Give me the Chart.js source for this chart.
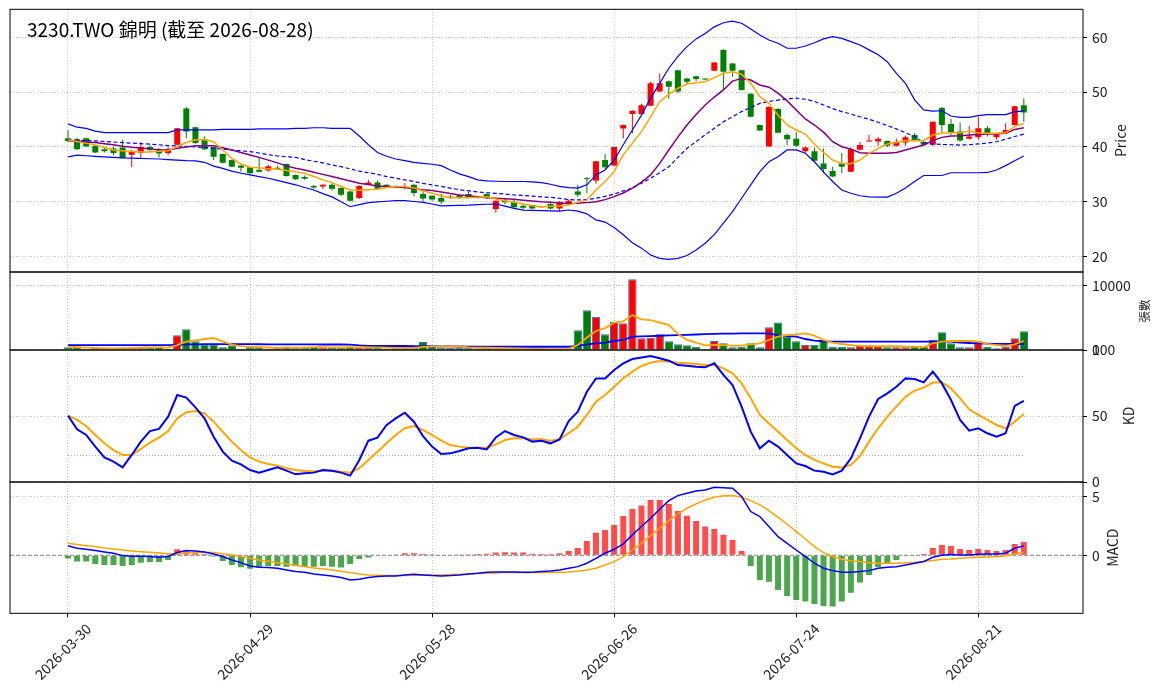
<!DOCTYPE html>
<html>
<head>
<meta charset="utf-8">
<script src="https://cdn.jsdelivr.net/npm/chart.js@4.4.1/dist/chart.umd.min.js"></script>
<style>
  html, body { margin: 0; padding: 0; background: #fff; }
  #wrap { position: relative; width: 1163px; height: 698px; overflow: hidden; }
  #wrap canvas { position: absolute; left: 0; top: 0; }
  #wrap canvas#price { top: -10px; }
</style>
</head>
<body>
<div id="wrap">
  <canvas id="price" width="1163" height="698"></canvas>
  <canvas id="vol" width="1163" height="698"></canvas>
  <canvas id="kd" width="1163" height="698"></canvas>
  <canvas id="macd" width="1163" height="698"></canvas>
</div>
<script>
// trading calendar (weekdays minus TW market holidays)
var holidays = ['2026-04-03', '2026-04-06', '2026-05-01', '2026-06-19'];
function tradingDays(start, end) {
  var out = [];
  var last = new Date(end + 'T00:00:00Z');
  for (var d = new Date(start + 'T00:00:00Z'); d <= last; d.setUTCDate(d.getUTCDate() + 1)) {
    var wd = d.getUTCDay();
    var s = d.toISOString().slice(0, 10);
    if (wd !== 0 && wd !== 6 && holidays.indexOf(s) < 0) out.push(s);
  }
  return out;
}
var dates = tradingDays('2026-03-30', '2026-08-28');
var xTicks = [0, 20, 40, 60, 80, 100];

var open = [41.6,41.4,41.6,40.2,39.6,39.7,39.9,38.6,38.9,40.0, 39.6,38.9,40.4,47.0,43.6,41.4,40.0,38.7,37.6,36.6,
  36.3,35.8,35.7,36.2,36.9,34.9,34.5,32.9,32.8,33.1, 32.5,31.9,30.7,33.1,33.5,33.1,32.9,32.6,33.1,31.4,
  31.1,30.7,30.7,31.2,31.4,30.9,31.4,28.7,30.2,30.0, 29.3,29.4,29.0,29.6,28.8,29.8,31.9,34.3,33.9,37.6,
  36.6,43.35,46.0,46.0,47.5,50.1,52.0,54.0,52.5,52.9, 52.4,53.9,57.7,55.2,54.0,49.7,44.0,40.1,46.9,42.2,
  41.5,39.2,39.2,37.0,35.6,37.0,35.5,39.5,41.0,41.0, 41.1,40.2,40.8,42.2,40.9,40.4,47.1,44.2,42.8,41.5,
  41.75,43.4,41.75,42.5,44.0,47.6];
var high = [43.1,41.7,41.7,40.3,40.0,40.1,41.3,39.5,40.9,40.3, 39.8,40.0,43.5,47.3,43.7,41.9,40.0,38.8,37.7,36.6,
  36.4,38.0,36.8,36.6,37.0,35.0,34.8,33.1,33.2,33.4, 32.6,32.0,33.0,34.0,33.9,33.2,33.0,33.4,33.2,32.0,
  31.2,31.4,31.3,31.3,31.8,31.1,31.5,30.3,30.5,30.4, 29.6,29.5,29.3,29.8,30.1,30.4,33.1,34.5,37.5,38.7,
  40.1,44.1,46.7,47.9,51.9,53.4,52.1,54.1,52.6,53.0, 52.5,55.5,57.8,55.3,54.1,49.8,44.1,47.4,47.1,42.4,
  42.7,40.1,39.9,39.7,36.4,38.9,39.9,40.9,42.2,41.8, 41.2,41.5,42.1,42.5,41.2,44.7,47.3,45.1,44.4,43.8,
  45.4,43.8,42.4,44.3,47.5,48.9];
var low = [41.0,39.5,40.0,38.9,39.0,38.5,37.9,36.3,38.1,39.2, 38.1,38.5,40.3,41.6,40.6,39.5,37.6,37.0,36.3,35.5,
  35.1,35.4,35.5,35.8,34.6,34.0,34.0,32.4,32.3,32.0, 31.0,30.1,30.5,33.0,32.3,32.5,32.6,32.3,31.0,30.0,
  30.2,29.6,30.5,30.5,30.7,30.6,30.5,28.0,29.6,28.9, 28.6,28.7,28.9,28.6,28.2,29.6,30.9,31.6,33.3,36.0,
  36.5,41.6,42.5,45.8,47.4,50.0,48.8,49.8,51.3,52.0, 52.2,53.8,50.4,52.8,50.3,45.4,42.9,40.0,42.5,40.3,
  40.0,39.0,37.3,35.2,34.5,35.2,35.4,39.4,41.0,40.2, 40.0,40.1,40.2,41.0,40.2,40.2,42.5,42.2,41.0,41.4,
  41.3,41.9,41.3,42.4,43.9,44.6];
var close = [41.1,39.6,40.1,39.0,39.2,38.9,38.0,39.1,40.0,39.5, 38.8,39.6,43.4,42.8,40.7,39.6,38.2,37.1,36.4,36.2,
  35.2,35.5,36.5,36.0,34.7,34.1,34.2,32.6,33.1,32.4, 31.3,30.2,32.9,33.5,32.4,32.7,32.7,32.8,31.6,30.6,
  30.4,30.0,30.9,30.7,30.8,30.7,30.7,30.2,29.9,29.0, 28.9,28.8,29.2,28.8,30.0,30.2,31.3,34.1,37.4,36.3,
  40.0,44.0,46.6,47.6,51.6,51.6,51.0,50.1,51.9,52.4, 52.3,55.4,53.7,53.9,50.4,45.5,43.0,47.3,42.6,41.4,
  40.2,39.9,37.5,36.0,34.6,36.4,39.6,40.35,41.1,41.5, 40.2,40.95,41.75,41.2,40.4,44.6,44.0,42.6,41.2,41.9,
  43.4,42.5,42.3,43.1,47.4,46.3];

var ma5 = [41.3,41.0,40.7,40.35,39.9,39.45,39.3,39.15,39.1,39.1, 39.2,39.3,40.05,40.8,41.3,41.35,40.95,39.45,37.9,36.9,
  36.3,36.2,36.0,36.0,35.7,35.5,35.2,34.6,34.0,33.5, 32.8,32.15,32.1,32.2,32.3,32.6,32.8,32.8,32.5,32.0,
  31.55,31.1,30.75,30.75,30.75,30.85,30.9,30.5,30.2,29.9, 29.6,29.3,29.1,29.2,29.25,29.4,29.9,30.35,32.15,33.7,
  35.5,38.55,40.7,42.8,45.5,48.25,49.6,50.7,51.5,51.7, 51.9,52.65,53.45,53.7,53.25,51.6,49.2,47.95,45.8,44.0,
  43.1,42.35,40.5,39.0,37.6,37.0,36.95,37.6,38.85,39.75, 40.55,40.8,41.15,41.2,41.15,42.2,42.5,42.6,42.6,42.9,
  42.55,42.5,42.5,42.6,43.7,44.3];
var ma10 = [41.15,41.05,40.9,40.8,40.6,40.4,40.15,39.95,39.8,39.65, 39.5,39.45,39.75,40.0,40.2,40.2,40.2,39.85,39.45,39.0,
  38.55,38.1,37.6,37.1,36.55,36.1,35.8,35.4,35.0,34.6, 34.2,33.8,33.4,33.15,32.9,32.8,32.7,32.6,32.4,32.2,
  32.05,31.8,31.5,31.25,31.1,30.9,30.75,30.65,30.55,30.45, 30.3,30.15,30.0,29.9,29.8,29.7,29.75,29.85,30.0,30.4,
  30.95,31.6,32.5,33.6,34.9,37.0,39.45,41.8,44.0,45.9, 47.65,49.1,50.4,52.0,52.5,52.2,51.3,50.9,49.8,48.4,
  46.75,45.1,44.0,42.7,40.95,40.05,39.6,38.95,38.85,38.85, 38.85,39.0,39.45,39.9,40.35,41.15,41.75,42.0,42.05,42.2,
  42.25,42.35,42.4,42.5,43.2,43.5];
var bbUpper = [44.2,43.6,43.4,42.9,42.6,42.6,42.6,42.6,42.6,42.6, 42.6,42.6,43.1,43.1,43.1,43.1,43.1,43.2,43.2,43.2,
  43.2,43.3,43.3,43.3,43.3,43.4,43.4,43.5,43.5,43.4, 43.4,43.4,42.0,40.4,39.0,38.3,37.8,37.5,37.2,37.0,
  36.85,36.6,35.8,35.1,34.6,34.0,33.8,33.75,33.7,33.7, 33.7,33.65,33.5,33.2,32.8,32.6,32.5,33.1,34.9,35.8,
  37.6,40.4,43.1,45.8,48.9,51.6,54.35,56.5,58.3,59.7, 60.7,61.9,62.65,62.95,62.55,61.5,60.4,59.5,58.9,58.0,
  58.0,58.4,59.0,59.7,60.1,59.8,59.2,58.6,57.7,56.8, 55.55,53.4,51.6,48.6,46.75,46.55,46.6,45.65,45.4,45.4,
  45.7,45.9,45.9,45.9,46.45,46.55];
var bbMid = [41.3,41.2,41.15,41.1,41.0,40.9,40.8,40.7,40.6,40.5, 40.4,40.25,40.2,40.1,40.0,39.9,39.75,39.6,39.45,39.3,
  39.15,38.9,38.6,38.35,38.2,38.1,37.7,37.4,37.1,36.7, 36.4,36.0,35.6,35.3,35.0,34.6,34.3,34.0,33.7,33.35,
  33.1,32.8,32.5,32.2,32.0,31.8,31.65,31.55,31.4,31.25, 31.15,31.05,30.9,30.8,30.65,30.4,30.35,30.4,30.65,31.0,
  31.4,32.0,32.5,33.4,34.3,35.3,36.4,38.1,39.75,41.0, 42.2,43.4,44.6,45.5,46.45,47.2,47.95,48.3,48.55,48.75,
  48.9,48.7,48.3,47.65,47.0,46.45,46.0,45.5,45.05,44.5, 43.9,43.3,42.6,41.9,40.8,40.55,40.45,40.4,40.35,40.4,
  40.55,40.7,40.95,41.4,41.9,42.35];
var bbLower = [38.2,38.5,38.4,38.3,38.2,38.1,38.0,37.95,37.9,37.85, 37.8,37.7,37.6,37.5,37.45,37.2,36.5,36.1,35.6,35.2,
  34.9,34.6,34.3,33.9,33.5,33.1,32.6,32.15,31.5,30.9, 30.0,29.1,29.5,29.85,30.0,30.1,30.2,30.2,30.05,29.9,
  29.6,29.25,29.3,29.35,29.4,29.5,29.55,29.6,29.2,28.8, 28.5,28.45,28.4,28.35,28.3,28.5,28.3,27.8,26.7,26.3,
  25.3,24.0,22.55,21.55,20.3,19.7,19.5,19.7,20.2,21.2, 22.45,24.0,26.1,28.2,30.65,33.1,35.5,37.3,38.2,39.45,
  39.45,38.85,37.3,35.4,33.7,32.15,31.55,31.1,30.9,30.85, 30.85,31.55,32.5,33.7,34.8,34.8,34.8,35.3,35.3,35.3,
  35.3,35.35,35.8,36.6,37.5,38.35];

var volume = [420,420,150,300,200,200,400,400,400,400, 500,200,2270,3200,1340,830,830,420,720,200,
  420,420,200,400,500,400,400,500,400,400, 400,500,400,400,400,200,300,300,400,1240,
  500,400,300,400,400,250,400,200,200,200, 100,150,150,150,200,200,3040,6130,5150,2420,
  4380,4120,10930,1800,1900,2420,1340,880,720,500, 100,1390,1030,420,500,1030,420,3500,4270,2060,
  1340,770,830,1440,520,520,420,720,720,620, 420,420,420,520,520,1550,2730,1030,420,420,
  1340,520,260,520,1800,2880];
var volMa5 = [450,430,380,340,300,250,300,320,360,400, 420,380,770,1290,1480,1700,1850,1320,830,600,
  520,450,390,330,390,380,380,440,440,420, 420,440,420,420,420,380,340,320,320,490,
  550,550,570,570,400,350,350,310,290,250, 220,170,160,150,150,170,750,1940,2940,3390,
  4220,4440,5400,4730,4630,4250,3900,2470,1550,1130, 710,780,750,690,690,870,1030,1550,2060,2320,
  2420,2580,2220,1550,1130,930,770,640,580,600, 580,580,520,520,460,1030,1290,1390,1390,1390,
  1290,930,770,620,870,1390];
var volMa20 = [760,760,760,760,760,760,760,760,760,750, 750,740,800,860,880,900,900,900,900,900,
  900,890,880,880,870,870,860,860,850,850, 850,820,700,650,620,620,620,620,600,600,
  580,560,550,540,530,520,520,510,500,500, 500,500,500,500,500,500,620,880,1030,1150,
  1390,1550,2060,2100,2160,2200,2270,2300,2350,2400, 2470,2500,2520,2540,2560,2580,2580,2580,2270,2150,
  2060,1700,1440,1350,1290,1290,1290,1290,1290,1290, 1290,1290,1290,1290,1290,1290,1290,1290,1130,1080,
  1030,980,960,950,940,930];

var kLine = [50.3,39.9,35.6,26.8,18.7,15.4,11.1,20.5,30.6,38.6, 40.2,49.5,65.9,63.9,56.6,48.2,34.3,23.0,16.2,13.4,
  9.1,7.1,9.1,11.1,8.6,5.8,6.6,7.1,9.1,8.6, 7.1,4.8,16.7,31.3,33.6,43.2,48.2,52.5,45.7,34.8,
  26.8,21.2,21.7,23.5,25.5,26.0,24.7,33.8,38.6,35.6, 33.8,30.6,31.3,29.3,32.3,46.2,53.3,68.4,78.5,78.5,
  84.8,89.9,93.2,94.4,95.5,93.7,91.9,88.6,88.1,87.4, 86.9,89.9,81.1,73.5,57.1,38.1,25.5,31.3,26.8,20.5,
  14.1,12.1,8.6,7.8,5.8,8.6,17.9,33.1,49.5,62.9, 67.2,72.2,78.5,78.0,75.5,83.6,74.7,62.1,47.0,38.9,
  40.7,36.9,34.3,36.9,57.6,61.4];
var dLine = [50.3,47.0,42.4,35.6,29.3,24.2,20.5,20.5,25.0,29.8, 33.6,38.6,48.2,52.8,53.8,52.0,45.7,38.1,30.6,24.2,
  18.7,15.4,13.6,12.4,10.4,9.1,8.3,8.1,8.6,8.6, 7.8,7.1,10.4,16.7,23.0,29.3,35.6,40.7,42.4,39.4,
  35.6,31.3,28.0,26.8,26.0,26.0,26.0,28.5,31.8,33.1, 33.1,32.3,32.3,31.3,32.3,36.9,41.9,50.8,60.9,65.9,
  72.2,78.5,83.6,87.9,90.4,91.7,91.2,90.4,89.9,89.4, 88.6,88.6,86.1,82.3,74.7,63.4,50.8,44.4,38.1,31.8,
  25.5,20.5,16.7,14.1,11.6,10.9,12.9,19.7,30.6,40.7, 49.5,57.1,64.6,69.2,71.5,75.3,75.5,71.0,63.4,55.1,
  50.8,47.0,43.2,40.7,45.7,51.5];

var dif = [0.82,0.6,0.51,0.4,0.28,0.17,-0.03,-0.09,-0.09,-0.11, -0.17,-0.11,0.23,0.4,0.37,0.28,0.11,-0.11,-0.4,-0.63,
  -0.91,-1.02,-1.05,-1.11,-1.25,-1.39,-1.45,-1.59,-1.68,-1.76, -1.9,-2.1,-2.05,-1.9,-1.82,-1.76,-1.76,-1.68,-1.62,-1.68,
  -1.73,-1.76,-1.73,-1.68,-1.59,-1.54,-1.45,-1.42,-1.42,-1.42, -1.45,-1.45,-1.39,-1.34,-1.25,-1.11,-0.97,-0.68,-0.26,0.17,
  0.51,0.97,1.74,2.45,3.16,3.92,4.66,5.09,5.29,5.49, 5.57,5.8,5.77,5.72,5.01,3.73,3.3,2.45,1.59,1.02,
  0.45,-0.11,-0.68,-1.11,-1.31,-1.45,-1.45,-1.39,-1.31,-1.11, -1.02,-0.97,-0.83,-0.68,-0.54,-0.17,0.0,0.06,0.03,0.03,
  0.09,0.11,0.11,0.17,0.6,0.8];
var signal = [1.02,0.91,0.82,0.74,0.63,0.54,0.45,0.37,0.31,0.26, 0.2,0.14,0.14,0.2,0.26,0.26,0.23,0.14,0.03,-0.11,
  -0.26,-0.4,-0.51,-0.63,-0.74,-0.85,-0.97,-1.08,-1.16,-1.25, -1.37,-1.48,-1.59,-1.68,-1.71,-1.73,-1.73,-1.73,-1.71,-1.71,
  -1.68,-1.68,-1.65,-1.62,-1.59,-1.56,-1.54,-1.51,-1.48,-1.48, -1.48,-1.48,-1.48,-1.48,-1.45,-1.42,-1.37,-1.25,-1.11,-0.83,
  -0.54,-0.11,0.45,1.02,1.68,2.3,2.96,3.53,4.01,4.38, 4.72,4.95,5.07,5.09,4.95,4.66,4.3,3.81,3.24,2.67,
  2.02,1.39,0.74,0.23,-0.11,-0.34,-0.48,-0.54,-0.63,-0.68, -0.68,-0.68,-0.63,-0.6,-0.54,-0.45,-0.34,-0.31,-0.26,-0.2,
  -0.17,-0.14,-0.11,-0.06,0.11,0.26];
var hist = [-0.28,-0.54,-0.54,-0.74,-0.83,-0.83,-0.91,-0.83,-0.63,-0.57, -0.57,-0.4,0.51,0.37,0.17,0.1,-0.11,-0.48,-0.83,-1.02,
  -1.16,-1.05,-0.91,-0.91,-0.97,-0.91,-0.97,-0.97,-0.91,-0.97, -1.05,-0.74,-0.31,-0.2,0.0,0.0,0.06,0.17,0.17,0.11,
  0.03,0.0,0.0,0.03,0.03,0.11,0.14,0.23,0.26,0.23, 0.23,0.14,0.11,0.11,0.17,0.37,0.63,1.22,1.93,2.16,
  2.59,3.36,3.95,4.24,4.72,4.72,4.38,3.78,3.38,2.93, 2.45,2.25,1.74,1.31,0.37,-0.91,-2.1,-2.25,-2.96,-3.47,
  -3.81,-3.95,-4.15,-4.32,-4.38,-3.95,-3.19,-2.33,-1.68,-1.02, -0.68,-0.4,-0.03,0.0,0.11,0.63,0.88,0.8,0.54,0.45,
  0.54,0.45,0.37,0.45,0.97,1.14];

Chart.defaults.font.family = '"Noto Sans CJK TC", "DejaVu Sans", sans-serif';
Chart.defaults.font.size = 14;
Chart.defaults.color = '#000';

var UP = '#ff0000', DOWN = '#008000';
var candleColors = close.map((c, i) => c >= open[i] ? UP : DOWN);
var GRID = '#b0b0b0';

function pts(arr) { return arr.map((y, i) => ({x: i, y: y})); }
function line(arr, color, width, dash) {
  return {type: 'line', data: pts(arr), borderColor: color, borderWidth: width, borderDash: dash || [],
    pointRadius: 0, tension: 0, fill: false, order: 0};
}

function xAxis(bottom) {
  var ax = {
    type: 'linear', min: -6.37, max: 111.5, offset: false,
    afterBuildTicks: s => { s.ticks = xTicks.map(v => ({value: v})); },
    grid: {color: GRID, lineWidth: 0.8, offset: false, drawTicks: bottom, tickLength: 4, tickColor: '#000', tickWidth: 1},
    border: {display: false, dash: [1, 2]},
    ticks: {display: false}
  };
  if (bottom) ax.afterFit = s => { s.height = 84.7; };
  return ax;
}
function yAxis(min, max, ticks) {
  return {
    position: 'right', min: min, max: max,
    afterBuildTicks: s => { s.ticks = ticks.map(v => ({value: v})); },
    afterFit: s => { s.width = 80; },
    grid: {color: GRID, lineWidth: 0.8, tickLength: 4, tickColor: '#000', tickWidth: 1},
    border: {display: false, dash: [1, 2]},
    ticks: {padding: 5, color: '#222', font: {size: 14}, callback: v => String(v)}
  };
}

// panel frame, in-plot title, rotated axis label and (bottom panel) date labels
var framePlugin = {
  id: 'frame',
  afterDraw(chart, args, opts) {
    var ctx = chart.ctx, a = chart.chartArea;
    ctx.save();
    ctx.strokeStyle = '#000';
    ctx.lineWidth = 1;
    ctx.strokeRect(a.left, a.top, a.right - a.left, a.bottom - a.top);
    if (opts.title) {
      ctx.font = '19px "Noto Sans CJK TC", sans-serif';
      ctx.fillStyle = '#000';
      ctx.textBaseline = 'alphabetic';
      ctx.fillText(opts.title, a.left + 17, a.top + 27.7);
    }
    if (opts.dates) {
      var sx = chart.scales.x;
      ctx.font = '14px "Noto Sans CJK TC", sans-serif';
      ctx.fillStyle = '#222';
      ctx.textAlign = 'center';
      ctx.textBaseline = 'middle';
      xTicks.forEach(v => {
        var label = dates[v];
        var w = ctx.measureText(label).width;
        var half = (w + 14) * Math.SQRT1_2 / 2;
        ctx.save();
        ctx.translate(sx.getPixelForValue(v) - 5, a.bottom + 8 + half);
        ctx.rotate(-Math.PI / 4);
        ctx.fillText(label, 0, 0);
        ctx.restore();
      });
    }
    if (opts.label) {
      ctx.translate(opts.labelX, (a.top + a.bottom) / 2);
      ctx.rotate(-Math.PI / 2);
      ctx.font = (opts.labelSize || 14) + 'px "Noto Sans CJK TC", sans-serif';
      ctx.fillStyle = '#222';
      ctx.textAlign = 'center';
      ctx.textBaseline = 'middle';
      ctx.fillText(opts.label, 0, 0);
    }
    ctx.restore();
  }
};

function baseOptions(pad, bottom, yCfg, frame) {
  return {
    responsive: false, animation: false, events: [],
    layout: {padding: pad},
    plugins: {legend: {display: false}, tooltip: {enabled: false}, frame: frame},
    scales: {x: xAxis(bottom), y: yCfg}
  };
}

// price panel (canvas is shifted up 10px so the plot can start at y = 9.3)
new Chart(document.getElementById('price'), {
  type: 'bar',
  data: {datasets: [
    line(ma5, 'orange', 1.5),
    line(ma10, 'purple', 1.5),
    line(bbUpper, 'blue', 1.2),
    line(bbMid, 'blue', 1.2, [4, 2.5]),
    line(bbLower, 'blue', 1.2),
    {type: 'bar', data: open.map((o, i) => ({x: i, y: [o, close[i]]})), backgroundColor: candleColors,
      barPercentage: 0.66, categoryPercentage: 1, grouped: false, minBarLength: 1, order: 1},
    {type: 'bar', data: low.map((l, i) => ({x: i, y: [l, high[i]]})), backgroundColor: candleColors,
      barPercentage: 0.9, categoryPercentage: 1, maxBarThickness: 1, grouped: false, order: 2}
  ]},
  options: baseOptions({top: 19.3, bottom: 416, left: 10, right: 0}, false, yAxis(17.2, 65.1, [20, 30, 40, 50, 60]),
    {title: '3230.TWO 錦明 (截至 2026-08-28)', label: 'Price', labelX: 1121}),
  plugins: [framePlugin]
});

// volume panel
new Chart(document.getElementById('vol'), {
  type: 'bar',
  data: {datasets: [
    line(volMa5, 'orange', 1.8),
    line(volMa20, 'blue', 1.8),
    {type: 'bar', data: pts(volume), backgroundColor: candleColors, borderColor: '#2f74b0', borderWidth: 1,
      barPercentage: 0.92, categoryPercentage: 1, grouped: false, order: 1}
  ]},
  options: baseOptions({top: 272, bottom: 348, left: 10, right: 0}, false, yAxis(0, 12060, [0, 10000]),
    {label: '張數', labelX: 1145, labelSize: 11.5}),
  plugins: [framePlugin]
});

// KD panel
new Chart(document.getElementById('kd'), {
  type: 'line',
  data: {datasets: [
    line(kLine, 'blue', 2),
    line(dLine, 'orange', 2),
    {type: 'line', data: [{x: 0, y: 80}, {x: 105, y: 80}], borderColor: '#999', borderWidth: 0.9, borderDash: [1, 2], pointRadius: 0},
    {type: 'line', data: [{x: 0, y: 20}, {x: 105, y: 20}], borderColor: '#999', borderWidth: 0.9, borderDash: [1, 2], pointRadius: 0}
  ]},
  options: baseOptions({top: 350, bottom: 216, left: 10, right: 0}, false, yAxis(0, 100, [0, 50, 100]),
    {label: 'KD', labelX: 1129}),
  plugins: [framePlugin]
});

// MACD panel
new Chart(document.getElementById('macd'), {
  type: 'bar',
  data: {datasets: [
    line(dif, 'blue', 1.5),
    line(signal, 'orange', 1.5),
    {type: 'line', data: [{x: -6.37, y: 0}, {x: 111.5, y: 0}], borderColor: '#888', borderWidth: 1, borderDash: [4, 2], pointRadius: 0, order: 0},
    {type: 'bar', data: pts(hist), backgroundColor: hist.map(v => v >= 0 ? 'rgba(255,0,0,0.7)' : 'rgba(0,128,0,0.7)'),
      barPercentage: 0.66, categoryPercentage: 1, grouped: false, order: 1}
  ]},
  options: baseOptions({top: 482, bottom: 0, left: 10, right: 0}, true, yAxis(-4.95, 6.25, [0, 5]),
    {label: 'MACD', labelX: 1113, dates: true}),
  plugins: [framePlugin]
});
</script>
</body>
</html>
